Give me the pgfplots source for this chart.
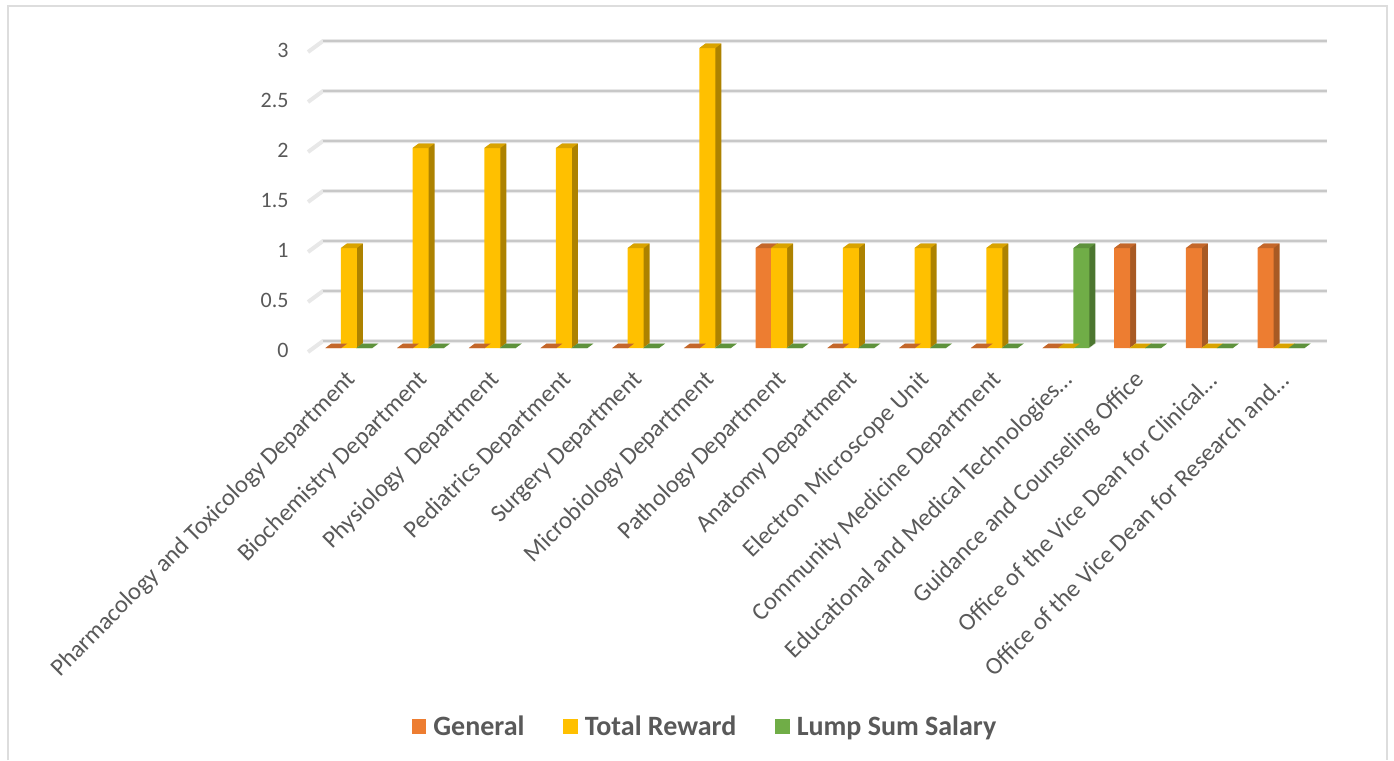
\documentclass[border=0pt]{standalone}
\usepackage{pgfplots}
\usepackage{pgfplotstable}
\usepackage{fontspec}
\setmainfont{Carlito}
\pgfplotsset{compat=1.18}
\definecolor{txt}{HTML}{595959}
\definecolor{gridA}{HTML}{E8E8E8}
\definecolor{gridB}{HTML}{C8C8C8}
\definecolor{frameC}{HTML}{DDDDDD}
\definecolor{orangeF}{HTML}{ED7D31}
\definecolor{orangeS}{HTML}{A85A24}
\definecolor{orangeT}{HTML}{C4672A}
\definecolor{yellowF}{HTML}{FFC000}
\definecolor{yellowS}{HTML}{AD8200}
\definecolor{yellowT}{HTML}{D9A300}
\definecolor{greenF}{HTML}{70AD47}
\definecolor{greenS}{HTML}{4C7630}
\definecolor{greenT}{HTML}{5E923C}

\pgfplotstableread{
idx general reward lump
0  0 1 0
1  0 2 0
2  0 2 0
3  0 2 0
4  0 1 0
5  0 3 0
6  1 1 0
7  0 1 0
8  0 1 0
9  0 1 0
10 0 0 1
11 1 0 0
12 1 0 0
13 1 0 0
}\bardata

\pgfplotsset{sq legend/.style={legend image code/.code={\fill[##1] (0pt,-7pt) rectangle (14.5pt,7.5pt);}}}

% top face of a bar, offset in pt
\newcommand\barTop[2]{%
  \pgfdeclareplotmark{#1}{%
    \pgfpathmoveto{\pgfpoint{#2pt-8pt}{0pt}}%
    \pgfpathlineto{\pgfpoint{#2pt+8pt}{0pt}}%
    \pgfpathlineto{\pgfpoint{#2pt+14pt}{4.5pt}}%
    \pgfpathlineto{\pgfpoint{#2pt-2pt}{4.5pt}}%
    \pgfpathclose\pgfusepathqfill}}
\barTop{topL}{-15.5}
\barTop{topM}{0}
\barTop{topR}{15.5}

% one series: column, shift, front, side, top colour, mark
\newcommand\barseries[6]{%
  \pgfplotsinvokeforeach{1,2,3,4,5,6}{%
    \addplot[ybar,bar width=16pt,bar shift=#2pt,fill=#4,draw=none,forget plot,
      shift={(##1pt,0.75*##1pt)}] table[x=idx,y=#1] {\bardata};}
  \addplot[ybar,bar width=16pt,bar shift=#2pt,fill=#3,draw=none,sq legend] table[x=idx,y=#1] {\bardata};
  \addplot[only marks,mark=#6,mark options={fill=#5,draw=none},forget plot] table[x=idx,y=#1] {\bardata};
}

\begin{document}
\begin{tikzpicture}
\useasboundingbox (-313pt,-412pt) rectangle (1081pt,348pt);
\draw[frameC,line width=2pt] (-305pt,-412pt) -- (-305pt,342pt) -- (1074pt,342pt) -- (1074pt,-412pt);
\begin{axis}[
  at={(0,0)},anchor=south west,
  scale only axis,width=1004pt,height=300pt,
  xmin=-0.5,xmax=13.5,ymin=0,ymax=3,
  clip=false,
  axis line style={draw=none},
  major tick length=0pt,
  xtick={0,...,13},
  ytick={0,0.5,1,1.5,2,2.5,3},
  /pgf/number format/assume math mode=true,
  yticklabel style={font=\fontsize{22}{24}\selectfont,text=txt,anchor=east,xshift=-21pt,yshift=-2.5pt},
  xticklabel style={font=\fontsize{24.5}{26}\selectfont,text=txt,rotate=45,anchor=east,xshift=-14.3pt,yshift=-22.5pt},
  xticklabels={Pharmacology and Toxicology Department,Biochemistry Department,Physiology\ \ Department,Pediatrics Department,Surgery Department,Microbiology Department,Pathology Department,Anatomy Department,Electron Microscope Unit,Community Medicine Department,Educational and Medical Technologies\ldots,Guidance and Counseling Office,Office of the Vice Dean for Clinical\ldots,Office of the Vice Dean for Research and\ldots},
  legend style={at={(0.3905,-1.263)},anchor=center,draw=none,fill=none,
    font=\fontsize{28}{30}\selectfont\bfseries,text=txt,
    legend columns=3,
    /tikz/every even column/.style={column sep=37pt},
    /tikz/every odd column/.style={column sep=5pt}},
]
\pgfplotsinvokeforeach{0,0.5,1,1.5,2,2.5,3}{
  \draw[gridA,line width=4pt] ([shift={(-5pt,-4pt)}]axis cs:-0.5,#1) -- ([shift={(10pt,7pt)}]axis cs:-0.5,#1) -- ([shift={(10pt,7pt)}]axis cs:13.5,#1);
  \draw[gridB,line width=1.5pt] ([shift={(10pt,7pt)}]axis cs:-0.5,#1) -- ([shift={(10pt,7pt)}]axis cs:13.5,#1);
}
\barseries{general}{-15.5}{orangeF}{orangeS}{orangeT}{topL}
\barseries{reward}{0}{yellowF}{yellowS}{yellowT}{topM}
\barseries{lump}{15.5}{greenF}{greenS}{greenT}{topR}
\legend{General,Total Reward,Lump Sum Salary}
\end{axis}
\end{tikzpicture}
\end{document}
